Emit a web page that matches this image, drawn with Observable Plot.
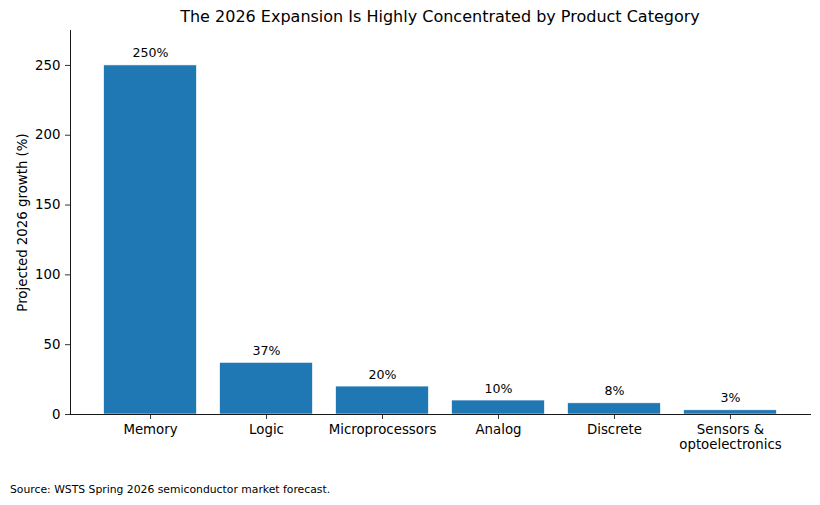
<!DOCTYPE html>
<html>
<head>
<meta charset="utf-8">
<script src="https://cdn.jsdelivr.net/npm/d3@7"></script>
<script src="https://cdn.jsdelivr.net/npm/@observablehq/plot@0.6"></script>
<style>
  body { margin: 0; background: #fff; font-family: "DejaVu Sans", sans-serif; color: #000; }
  #wrap { position: relative; width: 820px; height: 505px; }
  #title { position: absolute; top: 7px; left: 70px; width: 740px; text-align: center; font-size: 16px; line-height: 20px; }
  #chart { position: absolute; top: 26px; left: 0; }
  #caption { position: absolute; top: 483px; left: 10px; font-size: 10.8px; line-height: 14px; }
</style>
</head>
<body>
<div id="wrap">
  <div id="title">The 2026 Expansion Is Highly Concentrated by Product Category</div>
  <div id="chart"></div>
  <div id="caption">Source: WSTS Spring 2026 semiconductor market forecast.</div>
</div>
<script>
// Projected 2026 growth by product category (%)
const categories = ["Memory", "Logic", "Microprocessors", "Analog", "Discrete", "Sensors & optoelectronics"];
const tickLabels = ["Memory", "Logic", "Microprocessors", "Analog", "Discrete", "Sensors &\noptoelectronics"];
const growth = [250, 37, 20, 10, 8, 3];
const yTicks = [0, 50, 100, 150, 200, 250];

const data = categories.map((c, i) => ({category: c, value: growth[i]}));
const labelOf = new Map(categories.map((c, i) => [c, tickLabels[i]]));

const fs = 13.33;

const chart = Plot.plot({
  width: 820,
  height: 444,
  marginTop: 4,
  marginBottom: 56,
  marginLeft: 70,
  marginRight: 10,
  style: {fontFamily: "DejaVu Sans, sans-serif", fontSize: `${fs}px`, color: "#000", background: "#fff"},
  x: {type: "band", domain: categories, paddingInner: 0.2, paddingOuter: 0.29, align: 0.5, round: false},
  y: {domain: [0, 275]},
  marks: [
    Plot.barY(data, {x: "category", y: "value", fill: "#1f77b4", stroke: "#ffffff", strokeWidth: 0.6}),
    Plot.text(data, {x: "category", y: "value", text: d => `${d.value}%`, lineAnchor: "bottom", dy: -8, fontSize: 12.6, fill: "#000"}),
    Plot.axisY({ticks: yTicks, tickSize: 5, tickPadding: 5, label: null, fontSize: fs, stroke: "#000", strokeWidth: 0.8}),
    Plot.axisX({tickSize: 5, tickPadding: 4, label: null, fontSize: fs, lineHeight: 1.12, tickFormat: d => labelOf.get(d), stroke: "#000", strokeWidth: 0.8}),
    // left and bottom spines only
    Plot.frame({anchor: "left", stroke: "#000", strokeWidth: 0.9}),
    Plot.frame({anchor: "bottom", stroke: "#000", strokeWidth: 0.9}),
    Plot.text(["Projected 2026 growth (%)"], {frameAnchor: "left", dx: -48, rotate: -90, textAnchor: "middle", fontSize: fs, fill: "#000"})
  ]
});
document.getElementById("chart").appendChild(chart);
</script>
</body>
</html>
